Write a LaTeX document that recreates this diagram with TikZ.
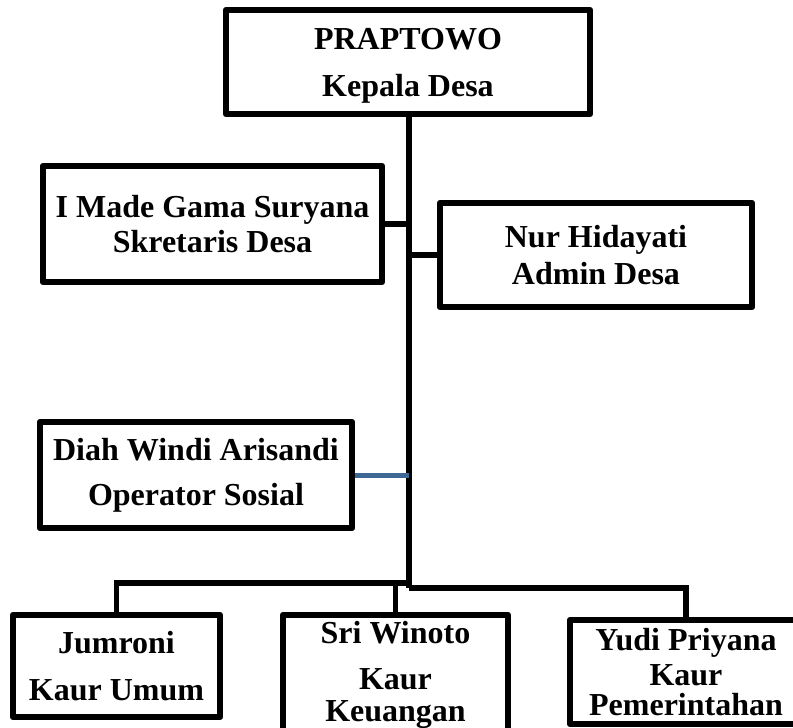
\documentclass[tikz,border=0pt]{standalone}
\usepackage{fontspec}
\setmainfont{Liberation Serif}
\definecolor{linkblue}{HTML}{3F6796}
\begin{document}
\begin{tikzpicture}[x=1pt,y=-1pt,
  box/.style={draw=black, line width=6.5pt, line join=round, fill=white, align=center, inner sep=0pt,
    font=\fontsize{32}{35}\selectfont\bfseries},
  conn/.style={draw=black, line width=5.5pt, line join=miter},
  thinconn/.style={draw=black, line width=4.5pt},
  blueconn/.style={draw=linkblue, line width=5pt}]
\clip (0,0) rectangle (793,728);
\fill[white] (0,0) rectangle (793,728);

\coordinate (bot) at (409,588);
\coordinate (hl) at (409,583);

\node[box, minimum width=364pt, minimum height=104pt, text depth=-4pt] (kd) at (408,62) {PRAPTOWO\\[12pt]Kepala Desa};
\node[box, minimum width=339pt, minimum height=116pt] (sek) at (212.5,224) {I Made Gama Suryana\\Skretaris Desa};
\node[box, minimum width=312pt, minimum height=104pt] (adm) at (596,255) {Nur Hidayati\\[2pt]Admin Desa};
\node[box, minimum width=312pt, minimum height=106pt] (ops) at (196,475) {Diah Windi Arisandi\\[10pt]Operator Sosial};
\node[box, minimum width=207pt, minimum height=102pt] (jum) at (116.5,666) {Jumroni\\[12pt]Kaur Umum};
\node[box, minimum width=225pt, minimum height=120pt] (sri) at (395.5,675) {Sri Winoto\\[11pt]Kaur\\[-3pt]Keuangan};
\node[box, minimum width=232pt, minimum height=104pt] (yud) at (686,672) {Yudi Priyana\\Kaur\\[-5pt]Pemerintahan};

\draw[conn] (kd.south -| bot) -- (bot);
\draw[conn] (sek.east) -- (sek.east -| bot);
\draw[conn] (adm.west) -- (adm.west -| bot);
\draw[blueconn] (ops.east) -- (ops.east -| bot);
\draw[conn] (hl) -- (hl -| jum.north) -- (jum.north);
\draw[thinconn] (sri.north |- hl) -- (sri.north);
\draw[conn] (bot) -- (bot -| yud.north) -- (yud.north);
\end{tikzpicture}
\end{document}
